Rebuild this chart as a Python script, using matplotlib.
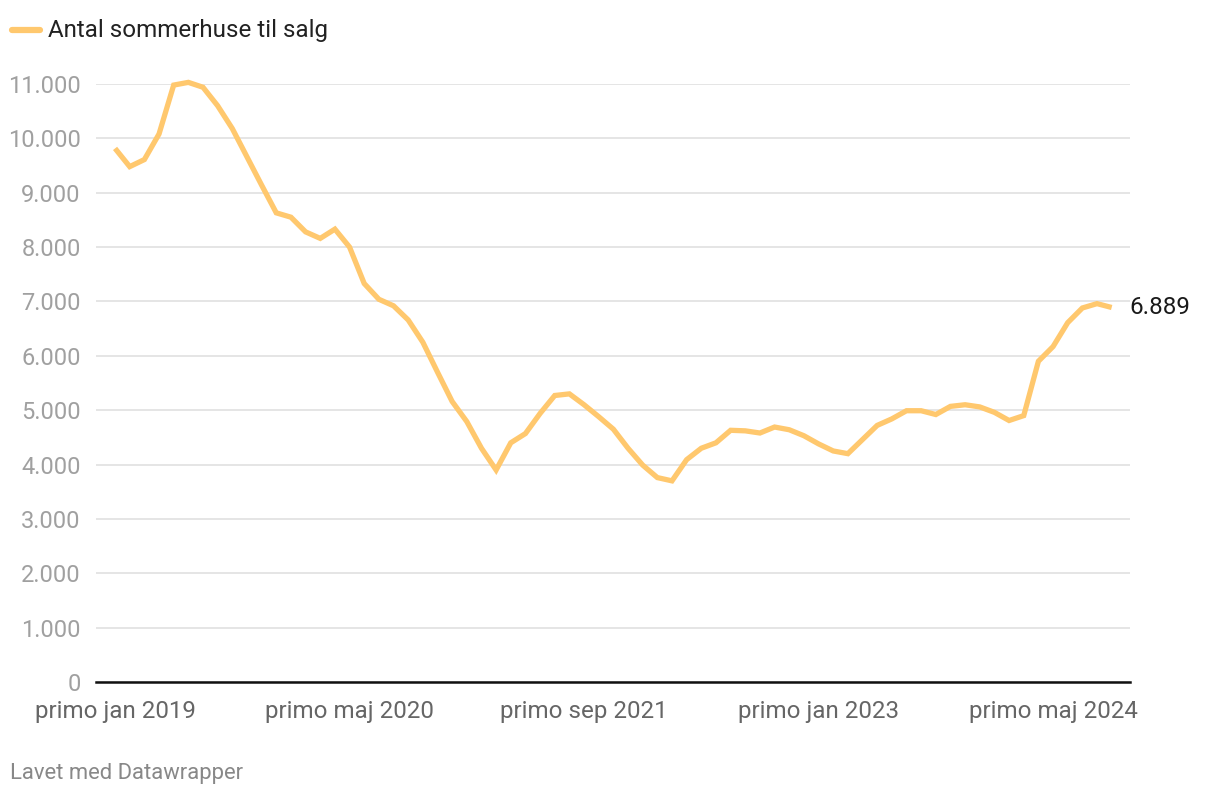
import matplotlib.pyplot as plt
import numpy as np

plt.rcParams['font.family'] = ['Roboto', 'DejaVu Sans']

# Antal sommerhuse til salg, primo hver måned fra jan 2019 til sep 2024
values = [9815, 9480, 9610, 10080, 10980, 11030, 10940, 10600, 10180, 9660,
          9140, 8630, 8550, 8280, 8160, 8330, 8000, 7330, 7040, 6920,
          6660, 6250, 5700, 5160, 4790, 4300, 3900, 4400, 4570, 4940,
          5270, 5300, 5100, 4880, 4650, 4300, 3990, 3760, 3700, 4090,
          4300, 4400, 4630, 4620, 4580, 4690, 4640, 4530, 4380, 4250,
          4200, 4460, 4720, 4840, 4990, 4990, 4920, 5070, 5100, 5060,
          4960, 4810, 4900, 5900, 6170, 6610, 6880, 6960, 6889]
months = np.arange(len(values))

xtick_pos = [0, 16, 32, 48, 64]
xtick_labels = ["primo jan 2019", "primo maj 2020", "primo sep 2021",
                "primo jan 2023", "primo maj 2024"]
yticks = np.arange(0, 12000, 1000)
ytick_labels = ["0" if v == 0 else f"{v:,}".replace(",", ".") for v in yticks]

W, H = 1220, 800
fig = plt.figure(figsize=(W / 100, H / 100), dpi=100)
ax = fig.add_axes([96 / W, 1 - 682 / H, (1130 - 96) / W, (682 - 84) / H])

color = "#FFC86E"
ax.plot(months, values, color=color, lw=3.8, solid_joinstyle="miter",
        solid_capstyle="butt", clip_on=False, zorder=3)

ax.set_xlim(-1.3, 69.25)
ax.set_ylim(0, 11000)
ax.set_yticks(yticks)
ax.set_yticklabels(ytick_labels)
ax.set_xticks(xtick_pos)
ax.set_xticklabels(xtick_labels)

for s in ["top", "right", "left"]:
    ax.spines[s].set_visible(False)
ax.spines["bottom"].set_color("#111111")
ax.spines["bottom"].set_linewidth(1.8)
ax.grid(axis="y", color="#E3E3E3", lw=1.3)
ax.set_axisbelow(True)
ax.tick_params(axis="y", length=0, pad=11, labelsize=17, labelcolor="#A0A0A0")
ax.tick_params(axis="x", length=0, pad=13, labelsize=17.4, labelcolor="#666666")

ax.text(68 + 1.2, values[-1], "6.889", fontsize=17.4, color="#1a1a1a",
        va="center", ha="left")

# legend
fig.add_artist(plt.Line2D([12 / W, 40 / W], [1 - 30 / H, 1 - 30 / H],
                          color=color, lw=4.5, solid_capstyle="round"))
fig.text(48 / W, 1 - 30 / H, "Antal sommerhuse til salg", fontsize=17.4,
         color="#222222", va="center", ha="left")

fig.text(10 / W, 1 - 774 / H, "Lavet med Datawrapper", fontsize=15.8,
         color="#888888", va="center", ha="left")

fig.savefig("out.png", dpi=100, facecolor="white")
